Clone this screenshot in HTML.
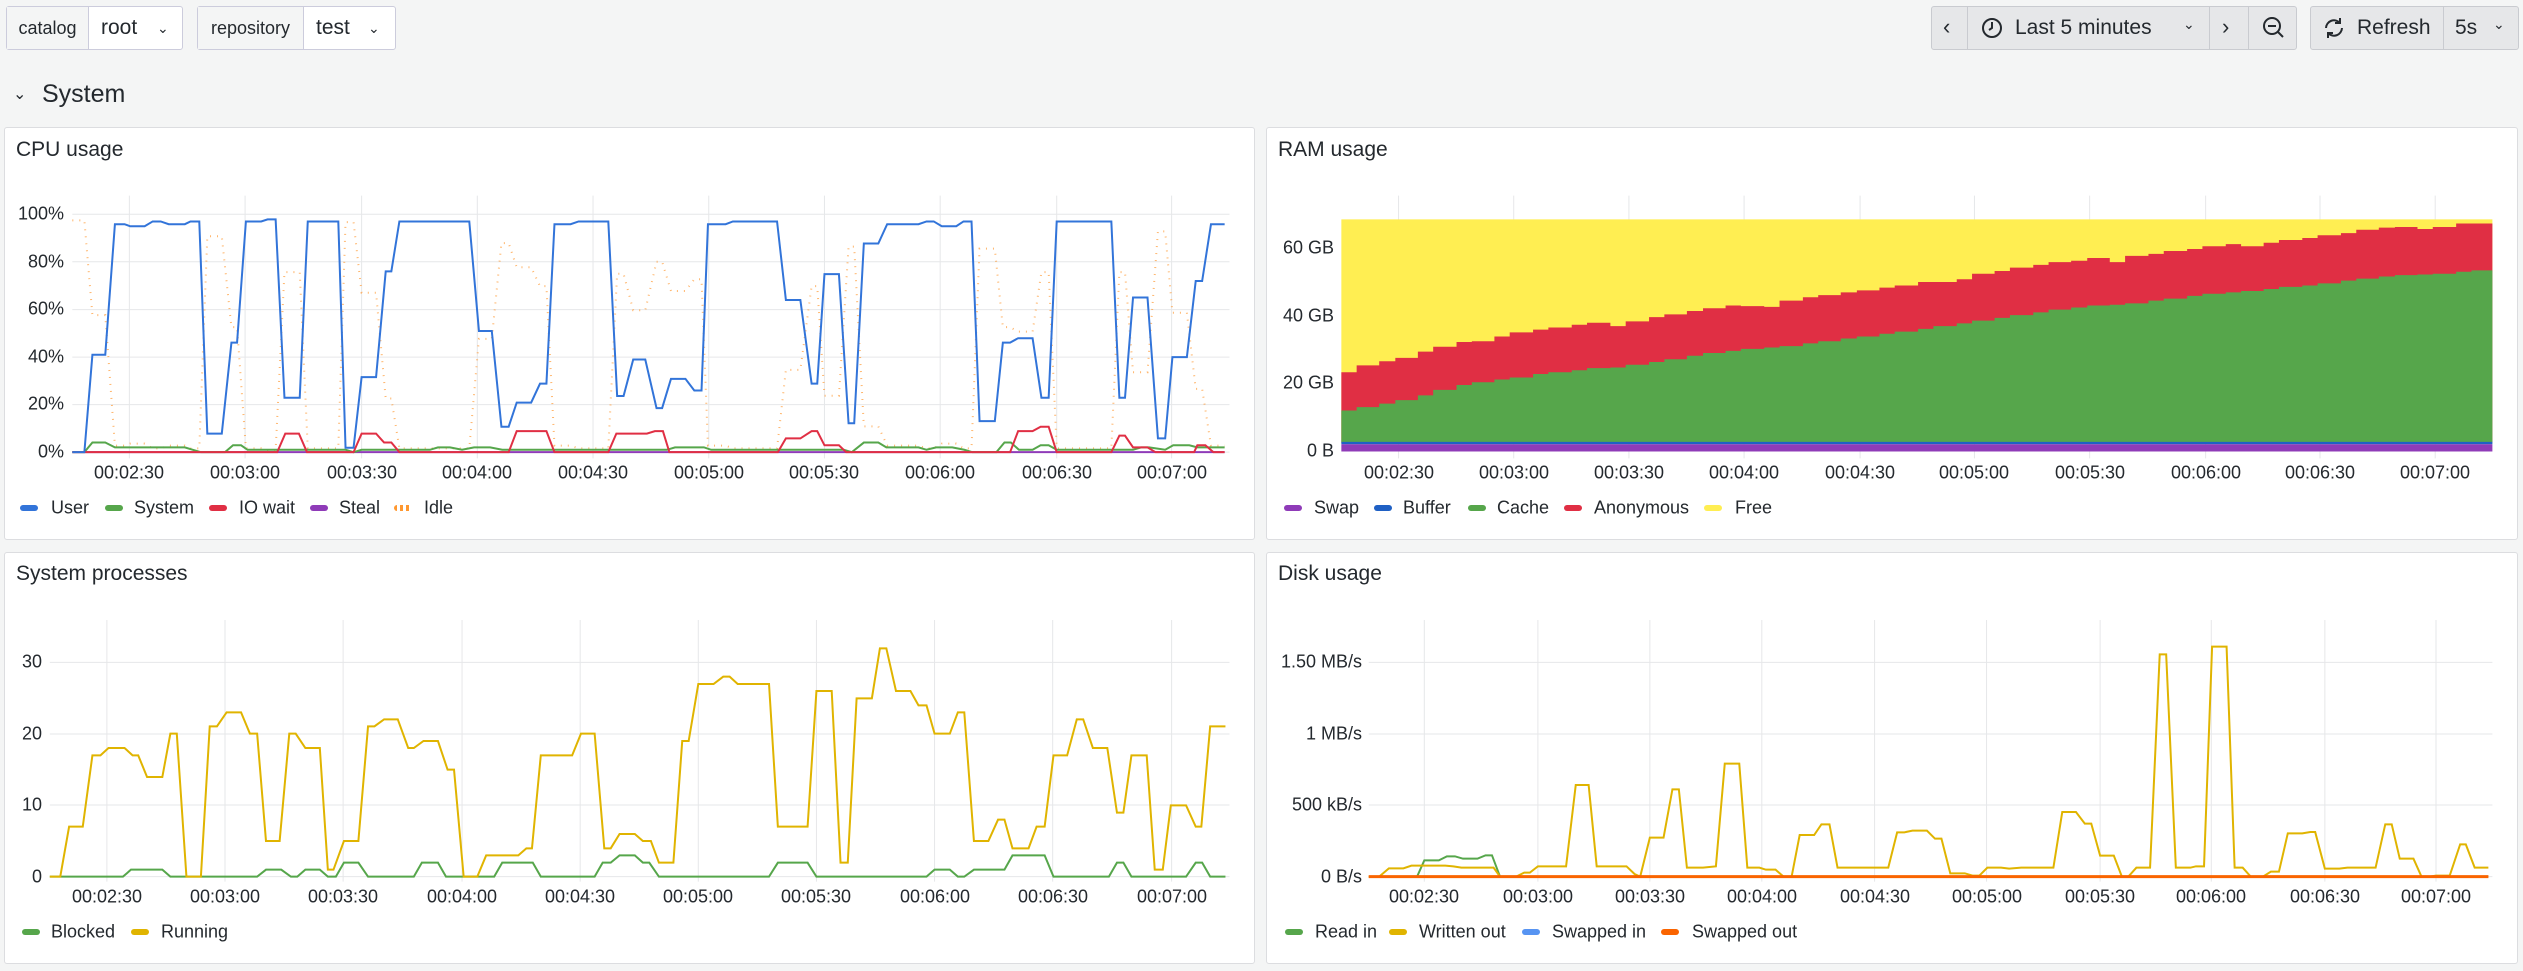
<!DOCTYPE html>
<html><head><meta charset="utf-8">
<style>
*{box-sizing:border-box;margin:0;padding:0}
body{width:2523px;height:971px;background:#f4f5f5;font-family:"Liberation Sans",sans-serif;color:#24292e;position:relative;overflow:hidden}
.a{position:absolute}
.box{position:absolute;border:1px solid #ccccdc;border-radius:3px;background:#fff;top:6px;height:44px}
.seg{position:absolute;top:0;height:42px;display:flex;align-items:center;font-size:21px;white-space:nowrap}
.btn{position:absolute;top:6px;height:44px;background:#e6e7e9;border:1px solid #c9cbd0;border-radius:3px}
.panel{position:absolute;background:#fff;border:1px solid #dcdde0;border-radius:3px}
.title{position:absolute;font-size:21px;color:#24292e}
.t{position:absolute;font-size:18px;color:#24292e;transform:translate(-50%,-50%);white-space:nowrap}
.y{position:absolute;font-size:18px;color:#24292e;transform:translateY(-50%);white-space:nowrap;text-align:right}
.lg{position:absolute;font-size:18px;color:#24292e;transform:translateY(-50%);white-space:nowrap}
.mk{position:absolute;width:18px;height:6px;border-radius:3px;transform:translateY(-50%)}
svg.c{position:absolute}
</style></head><body>

<!-- top bar -->
<div class="box" style="left:6px;width:177px;">
 <div class="seg" style="left:0;width:82px;background:#f4f5f5;border-right:1px solid #ccccdc;justify-content:center;font-size:18px">catalog</div>
 <div class="seg" style="left:94px;">root</div><div class="seg" style="left:150px;font-size:14px">&#8964;</div>
</div>
<div class="box" style="left:197px;width:199px;">
 <div class="seg" style="left:0;width:106px;background:#f4f5f5;border-right:1px solid #ccccdc;justify-content:center;font-size:18px">repository</div>
 <div class="seg" style="left:118px;">test</div><div class="seg" style="left:170px;font-size:14px">&#8964;</div>
</div>
<div class="a" style="left:13px;top:84px;font-size:16px">&#8964;</div>
<div class="a" style="left:42px;top:80px;font-size:25px">System</div>

<div class="btn" style="left:1931px;width:366px"></div>
<div class="a" style="left:1967px;top:6px;width:1px;height:44px;background:#c9cbd0"></div>
<div class="a" style="left:2209px;top:6px;width:1px;height:44px;background:#c9cbd0"></div>
<div class="a" style="left:2248px;top:6px;width:1px;height:44px;background:#c9cbd0"></div>
<div class="a" style="left:1943px;top:14px;font-size:22px">&#8249;</div>
<svg class="a" style="left:1981px;top:17px" width="22" height="22"><circle cx="11" cy="11" r="9" fill="none" stroke="#24292e" stroke-width="2"/><path d="M11 5v6l-3 2" stroke="#24292e" stroke-width="2" fill="none"/></svg>
<div class="a" style="left:2015px;top:16px;font-size:21px">Last 5 minutes</div>
<div class="a" style="left:2183px;top:16px;font-size:14px">&#8964;</div>
<div class="a" style="left:2222px;top:14px;font-size:22px">&#8250;</div>
<svg class="a" style="left:2262px;top:16px" width="24" height="24"><circle cx="10" cy="10" r="8" fill="none" stroke="#24292e" stroke-width="2"/><path d="M6 10h8M16 16l5 5" stroke="#24292e" stroke-width="2"/></svg>
<div class="btn" style="left:2310px;width:209px"></div>
<div class="a" style="left:2443px;top:6px;width:1px;height:44px;background:#c9cbd0"></div>
<svg class="a" style="left:2322px;top:16px" width="24" height="24"><path d="M4 12a8 8 0 0 1 14-5M20 12a8 8 0 0 1-14 5" fill="none" stroke="#24292e" stroke-width="2"/><path d="M18 2v5h-5M6 22v-5h5" fill="none" stroke="#24292e" stroke-width="2"/></svg>
<div class="a" style="left:2357px;top:16px;font-size:21px">Refresh</div>
<div class="a" style="left:2455px;top:16px;font-size:21px">5s</div>
<div class="a" style="left:2493px;top:16px;font-size:14px">&#8964;</div>

<!-- panels -->
<div class="panel" style="left:4px;top:127px;width:1251px;height:413px"></div>
<div class="panel" style="left:1266px;top:127px;width:1252px;height:413px"></div>
<div class="panel" style="left:4px;top:552px;width:1251px;height:412px"></div>
<div class="panel" style="left:1266px;top:552px;width:1252px;height:412px"></div>
<div class="title" style="left:16px;top:138px">CPU usage</div>
<div class="title" style="left:1278px;top:138px">RAM usage</div>
<div class="title" style="left:16px;top:562px">System processes</div>
<div class="title" style="left:1278px;top:562px">Disk usage</div>

<!-- CPU svg -->
<svg class="c" id="cpu" style="left:0;top:0" width="1260" height="540" viewBox="0 0 1568 1568" preserveAspectRatio="none">
<g stroke="#e6e7e9" stroke-width="1" vector-effect="non-scaling-stroke" id="cpug"></g>
<polyline fill="none" stroke="#8f3bb8" stroke-width="2" vector-effect="non-scaling-stroke" points="90,1313 1524,1313"/>
<polyline id="idle" fill="none" stroke="#ff9830" stroke-width="2" stroke-dasharray="1 6" opacity="0.7" vector-effect="non-scaling-stroke" points=""/>
<polyline fill="none" stroke="#56a64b" stroke-width="2" vector-effect="non-scaling-stroke" points="90,1313 105,1313 115,1285 131,1285 143,1299 230,1299 240,1306 250,1313 280,1313 290,1293 300,1293 308,1306 430,1306 440,1313 450,1306 535,1306 545,1299 560,1299 575,1306 590,1299 610,1299 625,1306 780,1306 790,1306 830,1306 840,1299 876,1299 885,1306 1050,1306 1060,1313 1075,1285 1093,1285 1103,1299 1143,1299 1153,1306 1165,1299 1185,1299 1200,1306 1210,1313 1240,1313 1250,1285 1258,1285 1268,1306 1285,1306 1295,1293 1305,1293 1315,1306 1410,1306 1420,1299 1430,1299 1450,1306 1460,1293 1480,1293 1490,1299 1524,1299"/>
<polyline fill="none" stroke="#e02f44" stroke-width="2" vector-effect="non-scaling-stroke" points="90,1313 345,1313 355,1259 372,1259 382,1313 440,1313 450,1259 468,1259 478,1285 487,1285 497,1313 633,1313 643,1252 680,1252 690,1313 757,1313 767,1259 805,1259 815,1252 825,1252 833,1313 968,1313 978,1273 996,1273 1010,1252 1017,1252 1026,1293 1044,1293 1053,1313 1257,1313 1267,1252 1285,1252 1295,1239 1305,1239 1315,1313 1383,1313 1393,1265 1400,1265 1410,1299 1428,1299 1438,1313 1486,1313 1490,1293 1500,1293 1510,1313 1524,1313"/>
<polyline id="user" fill="none" stroke="#3274d9" stroke-width="2" vector-effect="non-scaling-stroke" points="90,1313 105,1313 115,1030 131,1030 143,651 155,651 162,657 180,657 190,643 200,643 210,651 230,651 237,643 248,643 258,1259 276,1259 288,995 295,995 306,643 325,643 333,637 343,637 354,1155 373,1155 383,643 421,643 430,1300 440,1300 450,1095 468,1095 480,788 487,788 497,643 584,643 596,961 612,961 624,1239 633,1239 643,1169 661,1169 672,1114 680,1114 690,651 710,651 720,643 757,643 768,1150 776,1150 788,1044 803,1044 817,1185 824,1185 835,1100 853,1100 864,1134 873,1134 881,651 903,651 912,643 967,643 978,871 996,871 1010,1114 1017,1114 1026,796 1044,796 1056,1229 1063,1229 1075,707 1093,707 1104,651 1143,651 1153,643 1162,643 1172,657 1190,657 1199,643 1209,643 1219,1223 1238,1223 1248,995 1257,995 1267,982 1285,982 1296,1155 1305,1155 1315,643 1383,643 1393,1155 1400,1155 1410,864 1428,864 1441,1273 1450,1273 1459,1037 1477,1037 1488,816 1496,816 1507,651 1524,651"/>
</svg>

<!-- RAM svg -->
<svg class="c" id="ram" style="left:1260px;top:0" width="1263" height="540" viewBox="0 0 1568 1568" preserveAspectRatio="none">
<g stroke="#e6e7e9" stroke-width="1" vector-effect="non-scaling-stroke" id="ramg"></g>
<rect x="101" y="637" width="1429" height="650" fill="#ffee52"/>
<path id="ramr" fill="#e02f44"/>
<path id="ramc" fill="#56a64b"/>
<rect x="101" y="1283" width="1429" height="7" fill="#1f60c4"/>
<rect x="101" y="1290" width="1429" height="21" fill="#8f3bb8"/>
</svg>

<!-- Sysproc svg -->
<svg class="c" id="sp" style="left:0;top:540px" width="1260" height="431" viewBox="0 0 1568 1293" preserveAspectRatio="none">
<g stroke="#e6e7e9" stroke-width="1" vector-effect="non-scaling-stroke" id="spg"></g>
<polyline fill="none" stroke="#56a64b" stroke-width="2" vector-effect="non-scaling-stroke" points="62,1010 153,1010 163,989 202,989 212,1010 320,1010 331,989 350,989 362,1010 370,1010 380,989 398,989 408,1010 418,1010 428,968 446,968 458,1010 515,1010 525,968 545,968 555,1010 615,1010 625,968 663,968 673,1010 740,1010 750,968 760,968 771,946 790,946 800,968 808,968 820,1010 957,1010 968,968 1005,968 1016,1010 1153,1010 1163,989 1182,989 1192,1010 1200,1010 1212,989 1250,989 1260,946 1300,946 1311,1010 1380,1010 1390,968 1398,968 1408,1010 1476,1010 1488,968 1496,968 1506,1010 1525,1010"/>
<polyline fill="none" stroke="#e0b400" stroke-width="2" vector-effect="non-scaling-stroke" points="62,1010 75,1010 86,860 103,860 115,646 125,646 135,624 155,624 165,646 172,646 183,711 202,711 212,581 220,581 232,1010 250,1010 261,559 270,559 282,517 300,517 311,581 320,581 331,903 348,903 360,581 368,581 380,624 398,624 408,989 415,989 428,903 446,903 458,559 466,559 478,538 495,538 508,624 515,624 527,603 545,603 557,689 565,689 577,1010 594,1010 605,946 645,946 655,925 662,925 673,646 712,646 723,581 740,581 752,925 760,925 771,882 790,882 800,903 810,903 820,968 838,968 849,603 857,603 869,432 888,432 900,410 908,410 918,432 957,432 968,860 1005,860 1016,453 1035,453 1046,968 1055,968 1066,475 1085,475 1095,325 1103,325 1115,453 1133,453 1143,496 1153,496 1163,581 1182,581 1192,517 1200,517 1212,903 1230,903 1242,839 1250,839 1260,925 1280,925 1290,860 1300,860 1311,646 1328,646 1340,538 1348,538 1360,624 1378,624 1390,818 1398,818 1408,646 1427,646 1437,989 1447,989 1457,796 1476,796 1488,860 1495,860 1506,559 1525,559"/>
</svg>

<!-- Disk svg -->
<svg class="c" id="dk" style="left:1260px;top:540px" width="1263" height="431" viewBox="0 0 1568 1293" preserveAspectRatio="none">
<g stroke="#e6e7e9" stroke-width="1" vector-effect="non-scaling-stroke" id="dkg"></g>
<polyline fill="none" stroke="#56a64b" stroke-width="2" vector-effect="non-scaling-stroke" points="135,1010 195,1010 204,961 222,961 232,949 242,949 252,956 270,956 280,946 288,946 298,1010 1525,1010"/>
<polyline fill="none" stroke="#e0b400" stroke-width="2" vector-effect="non-scaling-stroke" points="135,1010 148,1010 160,985 178,985 188,977 230,977 240,979 250,983 290,983 298,1010 318,1010 328,998 335,998 345,979 380,979 392,735 408,735 418,979 455,979 465,1002 472,1010 484,893 501,893 512,748 520,748 530,983 550,983 566,979 577,671 595,671 605,983 620,983 628,989 640,989 650,1010 660,1010 670,885 688,885 697,853 707,853 717,983 780,983 791,877 800,877 810,872 828,872 838,896 846,896 857,1000 875,1000 885,1007 893,1007 903,983 920,983 930,986 945,983 985,983 996,816 1013,816 1024,851 1032,851 1043,947 1060,947 1070,1010 1078,1010 1088,983 1105,983 1117,343 1125,343 1137,983 1155,983 1162,979 1172,979 1182,320 1200,320 1210,983 1220,983 1230,1010 1245,1010 1255,995 1265,995 1276,880 1294,880 1304,876 1310,876 1322,986 1340,986 1350,983 1385,983 1397,853 1405,853 1415,956 1432,956 1442,1010 1452,1010 1460,1007 1477,1007 1490,913 1497,913 1508,983 1525,983"/>
<polyline fill="none" stroke="#fa6400" stroke-width="3" vector-effect="non-scaling-stroke" points="135,1010 1525,1010"/>
</svg>

<!-- axis labels -->
<div id="labels"></div>

<!-- legends -->
<div class="mk" style="left:20px;top:508px;background:#3274d9"></div><div class="lg" style="left:51px;top:508px">User</div>
<div class="mk" style="left:105px;top:508px;background:#56a64b"></div><div class="lg" style="left:134px;top:508px">System</div>
<div class="mk" style="left:209px;top:508px;background:#e02f44"></div><div class="lg" style="left:239px;top:508px">IO wait</div>
<div class="mk" style="left:310px;top:508px;background:#8f3bb8"></div><div class="lg" style="left:339px;top:508px">Steal</div>
<div class="mk" style="left:394px;top:508px;background:repeating-linear-gradient(90deg,#ff9830 0 3px,transparent 3px 6px)"></div><div class="lg" style="left:424px;top:508px">Idle</div>

<div class="mk" style="left:1284px;top:508px;background:#8f3bb8"></div><div class="lg" style="left:1314px;top:508px">Swap</div>
<div class="mk" style="left:1374px;top:508px;background:#1f60c4"></div><div class="lg" style="left:1403px;top:508px">Buffer</div>
<div class="mk" style="left:1468px;top:508px;background:#56a64b"></div><div class="lg" style="left:1497px;top:508px">Cache</div>
<div class="mk" style="left:1564px;top:508px;background:#e02f44"></div><div class="lg" style="left:1594px;top:508px">Anonymous</div>
<div class="mk" style="left:1704px;top:508px;background:#ffee52"></div><div class="lg" style="left:1735px;top:508px">Free</div>

<div class="mk" style="left:22px;top:932px;background:#56a64b"></div><div class="lg" style="left:51px;top:932px">Blocked</div>
<div class="mk" style="left:131px;top:932px;background:#e0b400"></div><div class="lg" style="left:161px;top:932px">Running</div>

<div class="mk" style="left:1285px;top:932px;background:#56a64b"></div><div class="lg" style="left:1315px;top:932px">Read in</div>
<div class="mk" style="left:1389px;top:932px;background:#e0b400"></div><div class="lg" style="left:1419px;top:932px">Written out</div>
<div class="mk" style="left:1522px;top:932px;background:#5794f2"></div><div class="lg" style="left:1552px;top:932px">Swapped in</div>
<div class="mk" style="left:1661px;top:932px;background:#fa6400"></div><div class="lg" style="left:1692px;top:932px">Swapped out</div>

<script>
var NS="http://www.w3.org/2000/svg";
function line(g,x1,y1,x2,y2){var l=document.createElementNS(NS,"line");l.setAttribute("x1",x1);l.setAttribute("y1",y1);l.setAttribute("x2",x2);l.setAttribute("y2",y2);l.setAttribute("vector-effect","non-scaling-stroke");document.getElementById(g).appendChild(l);}
[161,305,450,594,738,882,1026,1170,1315,1458].forEach(function(x){line("cpug",x,568,x,1331);});
[622,760,899,1037,1175,1313].forEach(function(y){line("cpug",90,y,1530,y);});
[172,315,458,601,745,887,1030,1174,1316,1459].forEach(function(x){line("ramg",x,568,x,1331);});
[133,280,427,575,722,869,1016,1163,1310,1458].forEach(function(x){line("spg",x,240,x,1025);});
[367,582,795,1010].forEach(function(y){line("spg",62,y,1530,y);});
[204,345,484,623,763,902,1043,1181,1322,1460].forEach(function(x){line("dkg",x,240,x,1025);});
[367,582,795,1010].forEach(function(y){line("dkg",135,y,1530,y);});
// idle
var up=document.getElementById("user").getAttribute("points").trim().split(/\s+/).map(function(p){return p.split(",").map(Number);});
document.getElementById("idle").setAttribute("points",up.map(function(p){var y=1935-p[1]+10;if(y>1313)y=1313;if(y<640)y=640;return p[0]+","+y;}).join(" "));
// RAM
var xs=[101,120,148,168,196,215,244,263,291,310,339,358,387,406,435,454,483,502,530,550,578,597,626,645,674,693,721,741,769,788,817,836,865,884,912,931,960,979,1007,1027,1055,1074,1103,1122,1151,1170,1199,1218,1246,1265,1294,1313,1342,1361,1389,1409,1437,1456,1485,1504];
var rt=[1081,1061,1049,1039,1021,1007,993,991,977,965,957,951,943,937,947,933,921,913,903,895,887,889,891,873,863,857,849,843,835,829,819,819,811,795,787,777,769,761,757,749,761,743,737,729,723,715,709,715,705,697,691,683,677,667,661,659,665,659,649,649];
var ct=[1192,1182,1172,1162,1148,1132,1118,1110,1102,1096,1086,1081,1075,1069,1067,1059,1051,1043,1033,1025,1019,1013,1009,1005,997,991,983,977,969,963,955,947,939,931,923,915,907,899,893,887,885,881,873,867,859,853,849,845,839,833,829,823,815,809,803,799,797,795,789,785];
function step(t){var d="M101,1285";for(var i=0;i<xs.length;i++){var x2=i+1<xs.length?xs[i+1]:1530;d+=" L"+xs[i]+","+t[i]+" L"+x2+","+t[i];}return d+" L1530,1285 Z";}
document.getElementById("ramr").setAttribute("d",step(rt));
document.getElementById("ramc").setAttribute("d",step(ct));
// labels
var h="";
function T(x,y,s){h+='<div class="t" style="left:'+x+'px;top:'+y+'px">'+s+'</div>';}
function Y(r,y,s){h+='<div class="y" style="right:'+(2523-r)+'px;top:'+y+'px">'+s+'</div>';}
var tl=["00:02:30","00:03:00","00:03:30","00:04:00","00:04:30","00:05:00","00:05:30","00:06:00","00:06:30","00:07:00"];
[129,245,362,477,593,709,824,940,1057,1172].forEach(function(x,i){T(x,473,tl[i]);});
[1399,1514,1629,1744,1860,1974,2090,2206,2320,2435].forEach(function(x,i){T(x,473,tl[i]);});
[107,225,343,462,580,698,816,935,1053,1172].forEach(function(x,i){T(x,897,tl[i]);});
[1424,1538,1650,1762,1875,1987,2100,2211,2325,2436].forEach(function(x,i){T(x,897,tl[i]);});
["100%","80%","60%","40%","20%","0%"].forEach(function(s,i){Y(64,214+i*47.6,s);});
Y(1334,248,"60 GB");Y(1334,316,"40 GB");Y(1334,383,"20 GB");Y(1334,451,"0 B");
Y(42,662,"30");Y(42,734,"20");Y(42,805,"10");Y(42,877,"0");
Y(1362,662,"1.50 MB/s");Y(1362,734,"1 MB/s");Y(1362,805,"500 kB/s");Y(1362,877,"0 B/s");
document.getElementById("labels").innerHTML=h;
</script>
</body></html>
